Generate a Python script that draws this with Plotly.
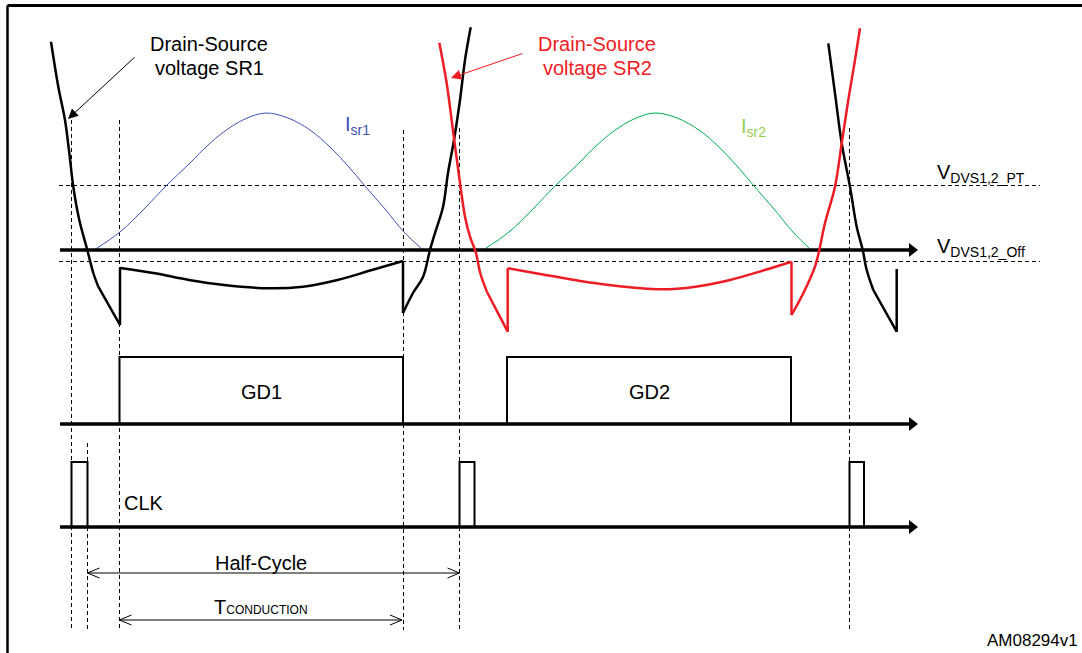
import plotly.graph_objects as go

# ---------------- data (pixel-like units) ----------------
# horizontal axes / levels
AXIS_X0, AXIS_X1 = 60, 917
Y_VDS_AXIS, Y_GD_AXIS, Y_CLK_AXIS = 250, 424, 527
Y_PT, Y_OFF = 185.5, 261.5
GD_HIGH, CLK_HIGH = 357, 462

# timing events
CLK_RISE = [71.5, 459.5, 849.5]
CLK_FALL = [87.5, 474.5, 864]
GD_ON = [119.5, 507]
GD_OFF = [403, 791]
GD_LABELS = ["GD1", "GD2"]

# dashed timing markers (x, top y)
MARK_X = [71.5, 87.5, 119.5, 403.5, 459.5, 849.5]
MARK_TOP = [120, 443, 120, 130, 128, 128]
MARK_BOTTOM = 630

# currents
ISR1_X = [94, 120, 145, 165, 190, 207, 225, 245, 266, 288, 310, 330, 348, 365, 385, 404, 423]
ISR1_Y = [250, 232, 208, 187, 163, 146, 131, 119, 113, 118, 130, 147, 166, 186, 209, 232, 250]
ISR2_X = [483, 509, 534, 554, 579, 596, 614, 634, 655, 677, 699, 719, 737, 754, 774, 793, 811]
ISR2_Y = [250, 232, 208, 187, 163, 146, 131, 119, 113, 118, 130, 147, 166, 186, 209, 232, 250]

# drain-source voltage SR1 (black)
SR1_FALL_A_X = [51, 58.3, 65, 69.3, 73.3, 79.3, 87.3, 93.3, 98.3]
SR1_FALL_A_Y = [41.7, 86.7, 120, 153, 186.7, 220, 250, 273, 286.7]
SR1_KNEE_A_X = [98.3, 110, 120, 120]
SR1_KNEE_A_Y = [286.7, 306.7, 325, 268]
SR1_COND_X = [120, 155, 189, 224, 268.6, 303, 337.5, 372, 403]
SR1_COND_Y = [268, 273.3, 280, 285, 288.3, 286.7, 280, 270, 261]
SR1_DROP_X = [403, 403]
SR1_DROP_Y = [261, 313]
SR1_RISE_X = [403, 413, 423, 430, 435, 443, 448, 454, 460, 465, 470.7]
SR1_RISE_Y = [313, 293, 277, 250, 233, 207, 173, 140, 100, 60, 27.3]
SR1_FALL_B_X = [828.3, 835, 841.7, 850, 856.7, 862.7, 866.7, 873.3]
SR1_FALL_B_Y = [43.3, 93.3, 143.3, 186.7, 226.7, 250, 270, 290]
SR1_KNEE_B_X = [873.3, 896.7, 896.7]
SR1_KNEE_B_Y = [290, 331.7, 269]

# drain-source voltage SR2 (red)
SR2_FALL_X = [439.3, 446.7, 453.3, 460, 465, 470, 475.7, 480.5, 487]
SR2_FALL_Y = [42.7, 83.3, 133, 183, 216.7, 236.7, 252, 274, 292]
SR2_KNEE_X = [487, 507.7, 507.7]
SR2_KNEE_Y = [292, 331.7, 268.3]
SR2_COND_X = [507.7, 540, 574.6, 609, 661, 695.5, 730, 764.7, 791.5]
SR2_COND_Y = [268.3, 274, 280, 285, 289.3, 286.7, 280, 270, 261.7]
SR2_DROP_X = [791.5, 791.5]
SR2_DROP_Y = [261.7, 315]
SR2_RISE_X = [791.5, 803.3, 815, 819.3, 825, 835, 841.7, 848.3, 855, 860]
SR2_RISE_Y = [315, 293.3, 266.7, 250, 223, 186.7, 143.3, 100, 60, 28.3]

# label pointers (tail -> head)
PTR_SR1 = ((136, 56), (68, 119))
PTR_SR2 = ((524, 53), (451, 78))

# interval arrows
HALF_CYCLE = (87.5, 459.5, 573)
T_COND = (119.5, 402, 620)

BLACK = "#000000"
RED = "#ee1c24"
BLUE = "#3f51b5"
GREEN = "#00b050"
FONT = "Arial, 'Liberation Sans', sans-serif"

fig = go.Figure()


def line(x, y, color=BLACK, width=2.0, shape="linear", dash=None):
    ln = dict(color=color, width=width, shape=shape)
    if dash:
        ln["dash"] = dash
    if shape == "spline":
        ln["smoothing"] = 1.0
    fig.add_trace(go.Scatter(x=x, y=y, mode="lines", line=ln,
                             hoverinfo="skip", showlegend=False))


# frame
line([7.5, 7.5], [653, 5.5], width=2.5)
line([7.5, 1082], [5.5, 5.5], width=3)

# dashed references
line([59, 1040], [Y_PT, Y_PT], width=1, dash="4px,3px")
line([59, 1040], [Y_OFF, Y_OFF], width=1, dash="4px,3px")
for mx, mt in zip(MARK_X, MARK_TOP):
    line([mx, mx], [mt, MARK_BOTTOM], width=1, dash="4px,3px")

# currents
line(ISR1_X, ISR1_Y, color=BLUE, width=1, shape="spline")
line(ISR2_X, ISR2_Y, color=GREEN, width=1, shape="spline")

# axes with arrowheads
for yy in (Y_VDS_AXIS, Y_GD_AXIS, Y_CLK_AXIS):
    line([AXIS_X0, AXIS_X1 - 6], [yy, yy], width=3.5)
fig.add_trace(go.Scatter(
    x=[AXIS_X1 - 5] * 3, y=[Y_VDS_AXIS, Y_GD_AXIS, Y_CLK_AXIS], mode="markers",
    marker=dict(symbol="triangle-right", size=12, color=BLACK, line=dict(width=0)),
    hoverinfo="skip", showlegend=False))

# SR1 waveform
line(SR1_FALL_A_X, SR1_FALL_A_Y, width=2.5, shape="spline")
line(SR1_KNEE_A_X, SR1_KNEE_A_Y, width=2.5)
line(SR1_COND_X, SR1_COND_Y, width=2.5, shape="spline")
line(SR1_DROP_X, SR1_DROP_Y, width=2.5)
line(SR1_RISE_X, SR1_RISE_Y, width=2.5, shape="spline")
line(SR1_FALL_B_X, SR1_FALL_B_Y, width=2.5, shape="spline")
line(SR1_KNEE_B_X, SR1_KNEE_B_Y, width=2.5)

# SR2 waveform
line(SR2_FALL_X, SR2_FALL_Y, color=RED, width=2.5, shape="spline")
line(SR2_KNEE_X, SR2_KNEE_Y, color=RED, width=2.5)
line(SR2_COND_X, SR2_COND_Y, color=RED, width=2.5, shape="spline")
line(SR2_DROP_X, SR2_DROP_Y, color=RED, width=2.5)
line(SR2_RISE_X, SR2_RISE_Y, color=RED, width=2.5, shape="spline")

# gate drive pulses
for on, off in zip(GD_ON, GD_OFF):
    line([on, on, off, off], [Y_GD_AXIS, GD_HIGH, GD_HIGH, Y_GD_AXIS], width=2)
# clock pulses
for r, f in zip(CLK_RISE, CLK_FALL):
    line([r, r, f, f], [Y_CLK_AXIS, CLK_HIGH, CLK_HIGH, Y_CLK_AXIS], width=2)

# interval double arrows (open heads)
HEAD_L, HEAD_W = 12, 5
for x0, x1, yy in (HALF_CYCLE, T_COND):
    line([x0, x1], [yy, yy], width=1)
    line([x0 + HEAD_L, x0, x0 + HEAD_L], [yy - HEAD_W, yy, yy + HEAD_W], width=1)
    line([x1 - HEAD_L, x1, x1 - HEAD_L], [yy - HEAD_W, yy, yy + HEAD_W], width=1)

annotations = []

# label pointer arrows
for (tail, head), col in ((PTR_SR1, BLACK), (PTR_SR2, RED)):
    annotations.append(dict(x=head[0], y=head[1], ax=tail[0], ay=tail[1],
                            xref="x", yref="y", axref="x", ayref="y",
                            showarrow=True, arrowhead=2, arrowsize=2, arrowwidth=1,
                            arrowcolor=col, text=""))


def text(x, y, s, size=20, color=BLACK, xanchor="center"):
    annotations.append(dict(x=x, y=y, xref="x", yref="y", text=s, showarrow=False,
                            xanchor=xanchor, yanchor="middle",
                            font=dict(family=FONT, size=size, color=color)))


text(209, 44, "Drain-Source")
text(209, 68, "voltage SR1")
text(597, 44, "Drain-Source", color=RED)
text(597, 68, "voltage SR2", color=RED)
text(343, 125, "I<sub>sr1</sub>", color=BLUE, xanchor="left")
text(739, 127, "I<sub>sr2</sub>", color="#92d050", xanchor="left")
text(935, 173, "V<sub>DVS1,2_PT</sub>", xanchor="left")
text(935, 247, "V<sub>DVS1,2_Off</sub>", xanchor="left")
for on, off, lab in zip(GD_ON, GD_OFF, GD_LABELS):
    text((on + off) / 2, 392, lab)
text(122, 503, "CLK", xanchor="left")
text(261, 563, "Half-Cycle")
text(261, 607, "T<span style='font-size:12px'>CONDUCTION</span>")
text(1080, 640, "AM08294v1", size=17, xanchor="right")

fig.update_layout(
    width=1082, height=653,
    margin=dict(l=0, r=0, t=0, b=0),
    paper_bgcolor="white", plot_bgcolor="white",
    xaxis=dict(range=[0, 1082], visible=False, fixedrange=True),
    yaxis=dict(range=[653, 0], visible=False, fixedrange=True),
    annotations=annotations,
    showlegend=False,
)

fig.write_html(
    "out.html",
    config={"displayModeBar": False},
    post_script="document.body.style.margin='0';document.body.style.overflow='hidden';",
)
